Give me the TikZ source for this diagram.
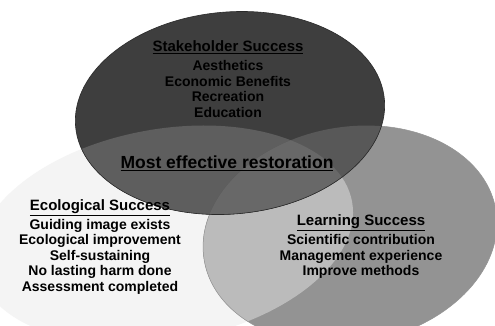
\documentclass[tikz,border=0pt]{standalone}
\usepackage{fontspec}
\setmainfont{Liberation Sans}
\definecolor{cL}{HTML}{F4F4F4}
\definecolor{cR}{HTML}{939393}
\definecolor{cLR}{HTML}{BBBBBB}
\definecolor{cT}{HTML}{3E3E3E}
\definecolor{cTL}{HTML}{5E5E5E}
\definecolor{cTR}{HTML}{585858}
\definecolor{cTLR}{HTML}{686868}
\definecolor{edge}{HTML}{2A2A2A}
\tikzset{
  ellL/.style={rotate around={10:(165,235)}},
  ellR/.style={rotate around={10:(350,235)}},
  ellT/.style={rotate around={5:(230,113)}},
  itemtext/.style={align=center, text=black, font=\bfseries\fontsize{14}{15.5}\selectfont},
  bigtext/.style={align=center, text=black, font=\bfseries\fontsize{17.5}{19}\selectfont}
}
\def\pathL{(165,235) ellipse [x radius=190pt, y radius=106pt]}
\def\pathR{(350,235) ellipse [x radius=148pt, y radius=108pt]}
\def\pathT{(230,113) ellipse [x radius=155pt, y radius=101pt]}
\begin{document}
\begin{tikzpicture}[x=1pt,y=-1pt]
\useasboundingbox (0,0) rectangle (495,325);
\begin{scope}
\clip (0,0) rectangle (495,325);
\fill[white] (0,0) rectangle (495,325);
% left ellipse
\fill[cL, ellL] \pathL;
% right ellipse
\fill[cR, ellR] \pathR;
\begin{scope}
  \clip[ellL] \pathL;
  \fill[cLR, ellR] \pathR;
\end{scope}
\draw[edge!50, line width=0.5pt, ellR] \pathR;
% top ellipse
\fill[cT, ellT] \pathT;
\begin{scope}
  \clip[ellT] \pathT;
  \fill[cTL, ellL] \pathL;
  \fill[cTR, ellR] \pathR;
  \clip[ellL] \pathL;
  \fill[cTLR, ellR] \pathR;
\end{scope}
\draw[edge, line width=0.6pt, ellT] \pathT;
\end{scope}

\node[itemtext] (stake) at (228,79)
  {{\fontsize{15}{15.5}\selectfont\underline{Stakeholder Success}}\\[3.5pt]
   Aesthetics\\ Economic Benefits\\ Recreation\\ Education};
\node[bigtext] (most) at (227,163) {\underline{Most effective restoration}};
\node[itemtext] (eco) at (100,247)
  {{\fontsize{15}{15.5}\selectfont\underline{Ecological Success}}\\[3.5pt]
   Guiding image exists\\ Ecological improvement\\ Self-sustaining\\
   No lasting harm done\\ Assessment completed};
\node[itemtext] (learn) at (361,247)
  {{\fontsize{15}{15.5}\selectfont\underline{Learning Success}}\\[3.5pt]
   Scientific contribution\\ Management experience\\ Improve methods};
\end{tikzpicture}
\end{document}
